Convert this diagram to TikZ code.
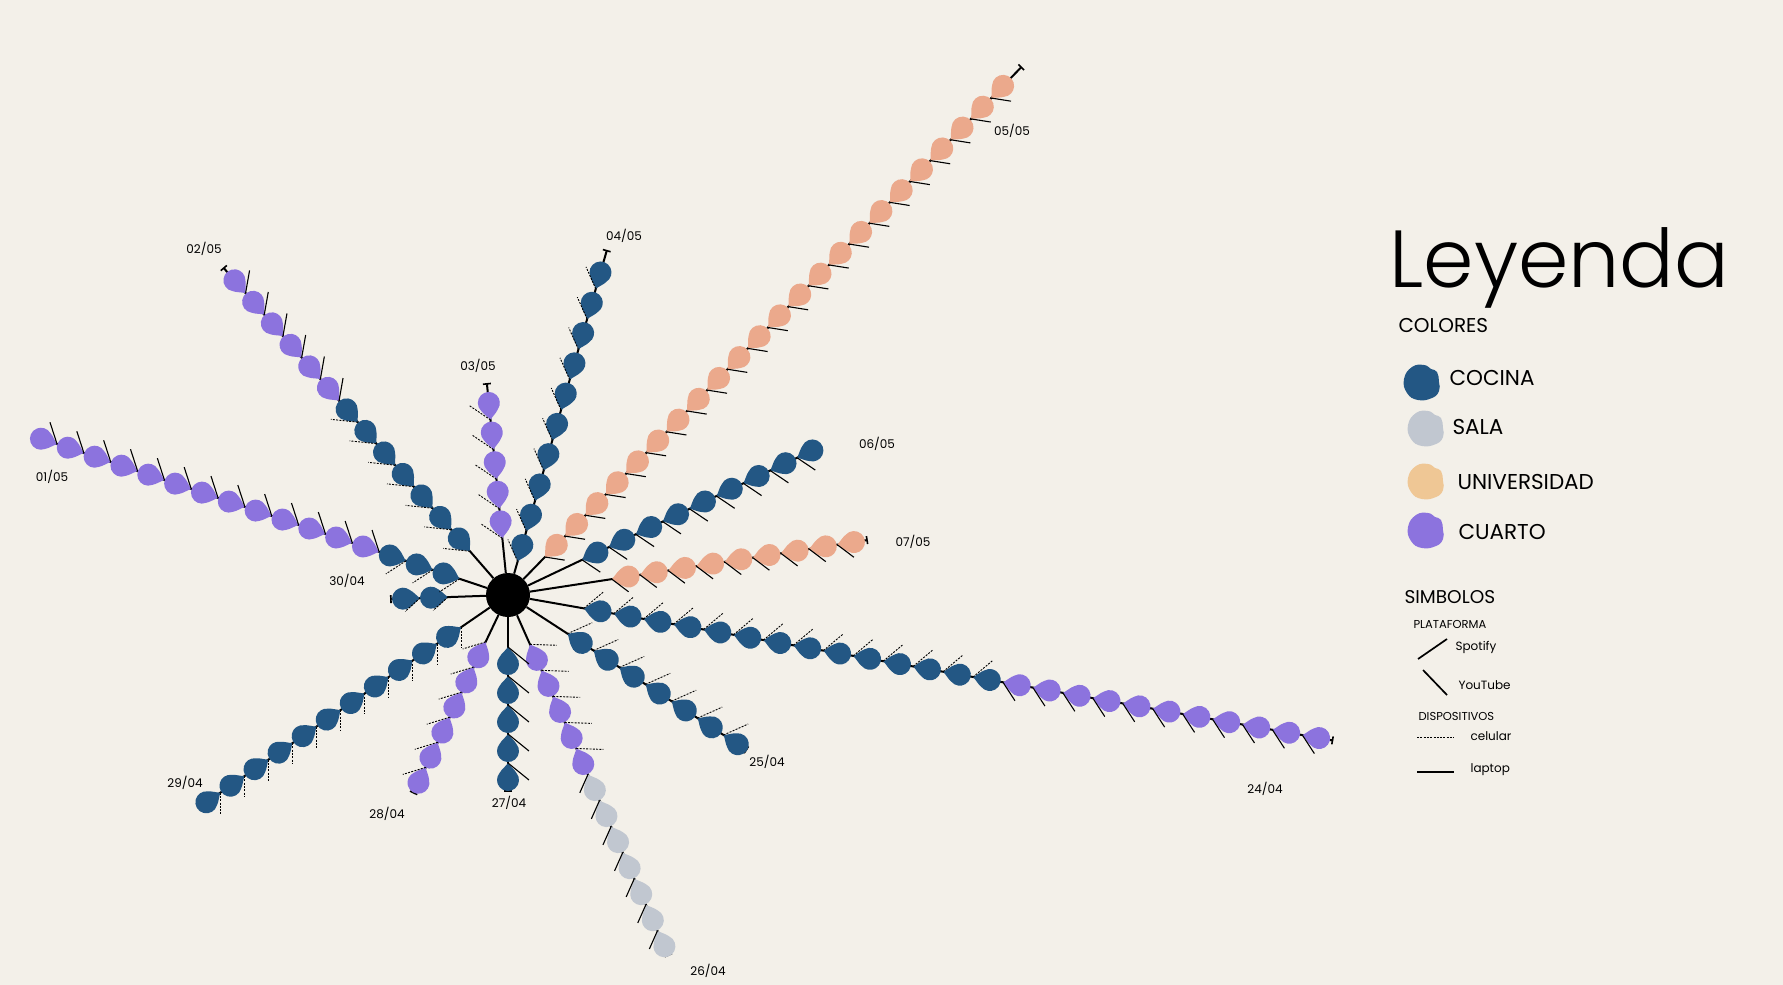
\documentclass[tikz,border=0pt]{standalone}
\usepackage{fontspec}
\setmainfont{Poppins}
\newfontfamily\fina{Poppins Light}
\usetikzlibrary{arrows.meta}

\definecolor{fondo}{HTML}{F3F0E9}
\definecolor{cocina}{HTML}{235784}
\definecolor{sala}{HTML}{C1C7D0}
\definecolor{universidad}{HTML}{EFC795}
\definecolor{salmon}{HTML}{EBA98C}
\definecolor{cuarto}{HTML}{8C73DE}

% gotas de un rayo: angulo, inicio, paso, desde, hasta, color, dispositivo, angulo marca, largo marca
\newcommand{\gotas}[9]{%
	\foreach \i in {#4,...,#5}{%
		\path (C) ++(#1:{#2+#3*\i}) coordinate (t);
		\fill[#6,shift={(t)},rotate=#1] (0,0) .. controls (3,2) and (6.5,6.6) .. (9.9,8.4)
			arc[start angle=130.3,end angle=-130.3,radius=11] .. controls (6.5,-6.6) and (3,-2) .. (0,0) -- cycle;
		\draw[#7] (t) -- ++(#8:#9);
	}}
% mancha de la leyenda: x, y, color
\newcommand{\mancha}[3]{%
	\fill[#3,shift={(#1,#2)}] plot[smooth cycle,tension=0.8] coordinates
		{(17,0) (15,10) (9,13) (2,17) (-10,15) (-18,3) (-15,-11) (-4,-18) (10,-16) (17,-9)};}

\begin{document}
\begin{tikzpicture}[x=1pt,y=1pt,
		rayo/.style={line width=2pt,-{Bar[width=8pt,line width=1.6pt]}},
		celular/.style={line width=0.9pt,dash pattern=on 2pt off 1.3pt},
		laptop/.style={line width=1.1pt},
		fecha/.style={font=\fontsize{12}{12}\selectfont},
		titulo/.style={font=\fontsize{20}{20}\selectfont,anchor=west},
		item/.style={font=\fontsize{21.5}{21.5}\selectfont,anchor=west},
		chico/.style={font=\fontsize{11.5}{11.5}\selectfont,anchor=west}]
	\useasboundingbox[fill=fondo] (0,0) rectangle (1783,-985);
	\node[circle,fill=black,minimum size=44pt,inner sep=0pt] (C) at (508,-595) {};

	% 24/04
	\path (C) ++(-10:838) coordinate (r24);
	\draw[rayo] (C) -- (r24);
	\gotas{-10}{77}{30.4}{0}{13}{cocina}{celular}{40}{26}
	\gotas{-10}{77}{30.4}{14}{24}{cuarto}{laptop}{-57}{22}
	% 25/04
	\path (C) ++(-33:285) coordinate (r25);
	\draw[rayo] (C) -- (r25);
	\gotas{-33}{71}{31}{0}{6}{cocina}{celular}{24}{27}
	% 26/04
	\path (C) ++(-66:395) coordinate (r26);
	\draw[rayo] (C) -- (r26);
	\gotas{-66}{54}{28.5}{0}{4}{cuarto}{celular}{-2}{27}
	\gotas{-66}{54}{28.5}{5}{11}{sala}{laptop}{-114}{20}
	% 27/04
	\path (C) ++(-90:197) coordinate (r27);
	\draw[rayo] (C) -- (r27);
	\gotas{-90}{52}{29}{0}{4}{cocina}{laptop}{-39}{27}
	% 28/04
	\path (C) ++(-115.5:220) coordinate (r28);
	\draw[rayo] (C) -- (r28);
	\gotas{-115.5}{52}{27.8}{0}{5}{cuarto}{celular}{-163}{24}
	% 29/04
	\path (C) ++(-145.5:376) coordinate (r29);
	\draw[rayo] (C) -- (r29);
	\gotas{-145.5}{57}{29.2}{0}{10}{cocina}{celular}{-90}{21}
	% 30/04
	\path (C) ++(-178:118) coordinate (r30);
	\draw[rayo] (C) -- (r30);
	\gotas{-178}{60}{28}{0}{1}{cocina}{celular}{-138}{20}
	% 01/05
	\path (C) ++(161.5:500) coordinate (r01);
	\draw[rayo] (C) -- (r01);
	\gotas{161.5}{51}{28.3}{0}{2}{cocina}{celular}{-147}{24}
	\gotas{161.5}{51}{28.3}{3}{15}{cuarto}{laptop}{108}{23}
	% 02/05
	\path (C) ++(131:434) coordinate (r02);
	\draw[rayo] (C) -- (r02);
	\gotas{131}{58}{28.5}{0}{6}{cocina}{celular}{174}{27}
	\gotas{131}{58}{28.5}{7}{12}{cuarto}{laptop}{80}{23}
	% 03/05
	\path (C) ++(95.7:213) coordinate (r03);
	\draw[rayo] (C) -- (r03);
	\gotas{95.7}{57}{29.75}{0}{4}{cuarto}{celular}{146}{26}
	% 04/05
	\path (C) ++(74:359) coordinate (r04);
	\draw[rayo] (C) -- (r04);
	\gotas{74}{35}{31.5}{0}{9}{cocina}{celular}{114}{24}
	% 05/05
	\path (C) ++(45.8:737) coordinate (r05);
	\draw[rayo] (C) -- (r05);
	\gotas{45.8}{53}{29.1}{0}{22}{salmon}{laptop}{-9}{20}
	% 06/05
	\path (C) ++(25.4:345) coordinate (r06);
	\draw[rayo] (C) -- (r06);
	\gotas{25.4}{82}{29.75}{0}{8}{cocina}{laptop}{-34}{22}
	% 07/05
	\path (C) ++(8.7:364) coordinate (r07);
	\draw[rayo] (C) -- (r07);
	\gotas{8.7}{105}{28.5}{0}{8}{salmon}{laptop}{-37}{21}

	% fechas
	\node[fecha] (f24) at (1265,-789) {24/04};
	\node[fecha] (f25) at (767,-762) {25/04};
	\node[fecha] (f26) at (708,-971) {26/04};
	\node[fecha] (f27) at (509,-803) {27/04};
	\node[fecha] (f28) at (387,-814) {28/04};
	\node[fecha] (f29) at (185,-783) {29/04};
	\node[fecha] (f30) at (347,-581) {30/04};
	\node[fecha] (f01) at (52,-477) {01/05};
	\node[fecha] (f02) at (204,-249) {02/05};
	\node[fecha] (f03) at (478,-366) {03/05};
	\node[fecha] (f04) at (624,-236) {04/05};
	\node[fecha] (f05) at (1012,-131) {05/05};
	\node[fecha] (f06) at (877,-444) {06/05};
	\node[fecha] (f07) at (913,-542) {07/05};

	% leyenda
	\node[anchor=base west,font=\fina\fontsize{81}{81}\selectfont] (ley) at (1386,-287) {Leyenda};
	\node[titulo] (col) at (1395,-326) {COLORES};
	\mancha{1422}{-382}{cocina}
	\mancha{1426}{-428}{sala}
	\mancha{1426}{-481}{universidad}
	\mancha{1426}{-530}{cuarto}
	\node[item] (coc) at (1446,-378) {COCINA};
	\node[item] (sal) at (1449,-427) {SALA};
	\node[item] (uni) at (1454,-482) {UNIVERSIDAD};
	\node[item] (cua) at (1455,-532) {CUARTO};
	\node[titulo,font=\fontsize{18.5}{18.5}\selectfont] (sim) at (1401,-597) {SIMBOLOS};
	\node[chico] (pla) at (1410,-624) {PLATAFORMA};
	\draw[line width=1.7pt] (1418,-659) -- (1447,-639);
	\node[chico,font=\fontsize{12}{12}\selectfont] (spo) at (1452,-647) {Spotify};
	\draw[line width=1.7pt] (1423,-670) -- (1447,-695);
	\node[chico,font=\fontsize{12}{12}\selectfont] (you) at (1455,-685) {YouTube};
	\node[chico] (dis) at (1415,-716) {DISPOSITIVOS};
	\draw[celular] (1417,-737) -- (1454,-737);
	\node[chico,font=\fontsize{12}{12}\selectfont] (cel) at (1467,-736) {celular};
	\draw[laptop] (1417,-772) -- (1454,-772);
	\node[chico,font=\fontsize{12}{12}\selectfont] (lap) at (1467,-770) {laptop};
\end{tikzpicture}
\end{document}
